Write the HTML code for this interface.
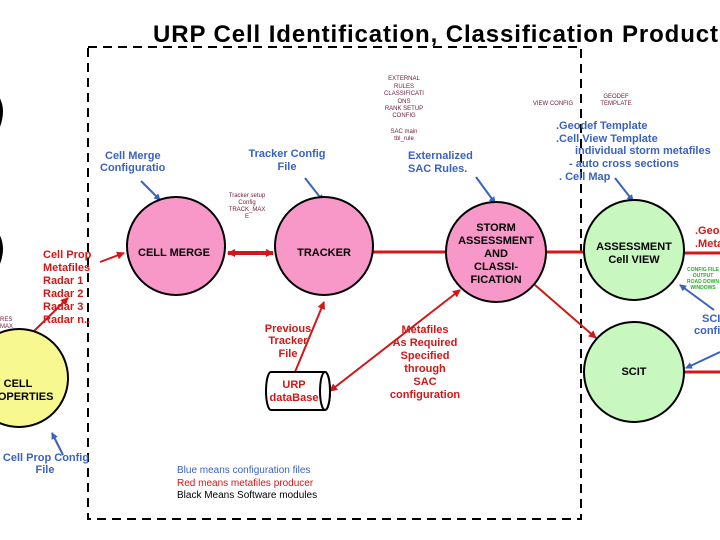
<!DOCTYPE html>
<html><head><meta charset="utf-8"><style>
html,body{margin:0;padding:0;background:#fff;overflow:hidden;}
svg{display:block;}
text{font-family:"Liberation Sans",sans-serif;}
.b{fill:#3a62c0;font-weight:bold;font-size:11px;}
.r{fill:#d01818;font-weight:bold;font-size:11px;}
.k{fill:#000;font-weight:bold;font-size:11px;}
.m{fill:#702040;font-size:6px;}
</style></head><body>
<svg width="720" height="540" viewBox="0 0 720 540" xmlns="http://www.w3.org/2000/svg">
<defs>
<marker id="ar" markerWidth="8" markerHeight="8" refX="7" refY="4" orient="auto" markerUnits="userSpaceOnUse"><path d="M0,0 L8,4 L0,8 z" fill="#d01818"/></marker>
<marker id="al" markerWidth="8" markerHeight="8" refX="1" refY="4" orient="auto" markerUnits="userSpaceOnUse"><path d="M8,0 L0,4 L8,8 z" fill="#d01818"/></marker>
<marker id="ab" markerWidth="7" markerHeight="7" refX="6" refY="3.5" orient="auto" markerUnits="userSpaceOnUse"><path d="M0,0 L7,3.5 L0,7 z" fill="#3a62c0"/></marker>
</defs>
<text x="153" y="42" font-size="24" font-weight="bold" fill="#000" letter-spacing="0.9">URP Cell Identification, Classification Product</text>
<rect x="88" y="47" width="493" height="472" fill="none" stroke="#000" stroke-width="2" stroke-dasharray="9,6"/>
<path d="M-2,98 Q5,110 -2,128" fill="none" stroke="#000" stroke-width="3"/>
<path d="M-2,235 Q5,248 -2,265" fill="none" stroke="#000" stroke-width="3"/>
<line x1="228" y1="253" x2="273" y2="253" stroke="#d01818" stroke-width="4" marker-start="url(#al)" marker-end="url(#ar)"/>
<line x1="373" y1="252" x2="446" y2="252" stroke="#d01818" stroke-width="3"/>
<line x1="545" y1="252" x2="585" y2="252" stroke="#d01818" stroke-width="3"/>
<line x1="684" y1="253" x2="720" y2="253" stroke="#d01818" stroke-width="3"/>
<line x1="684" y1="372" x2="720" y2="372" stroke="#d01818" stroke-width="3"/>
<line x1="100" y1="262" x2="124" y2="253" stroke="#d01818" stroke-width="2" marker-end="url(#ar)"/>
<line x1="33" y1="332" x2="68" y2="298" stroke="#d01818" stroke-width="2" marker-end="url(#ar)"/>
<line x1="295" y1="372" x2="324" y2="302" stroke="#d01818" stroke-width="2" marker-end="url(#ar)"/>
<line x1="330" y1="391" x2="460" y2="290" stroke="#d01818" stroke-width="2" marker-start="url(#al)" marker-end="url(#ar)"/>
<line x1="535" y1="285" x2="596" y2="338" stroke="#d01818" stroke-width="2" marker-end="url(#ar)"/>
<line x1="141" y1="181" x2="160" y2="200" stroke="#3a62c0" stroke-width="2" marker-end="url(#ab)"/>
<line x1="305" y1="178" x2="323" y2="201" stroke="#3a62c0" stroke-width="2" marker-end="url(#ab)"/>
<line x1="476" y1="177" x2="495" y2="203" stroke="#3a62c0" stroke-width="2" marker-end="url(#ab)"/>
<line x1="615" y1="178" x2="633" y2="201" stroke="#3a62c0" stroke-width="2" marker-end="url(#ab)"/>
<line x1="714" y1="310" x2="680" y2="285" stroke="#3a62c0" stroke-width="2" marker-end="url(#ab)"/>
<line x1="720" y1="352" x2="686" y2="368" stroke="#3a62c0" stroke-width="2" marker-end="url(#ab)"/>
<line x1="63" y1="455" x2="52" y2="433" stroke="#3a62c0" stroke-width="2" marker-end="url(#ab)"/>
<circle cx="176" cy="246" r="49" fill="#f898c8" stroke="#000" stroke-width="2"/>
<circle cx="324" cy="246" r="49" fill="#f898c8" stroke="#000" stroke-width="2"/>
<circle cx="496" cy="252" r="50" fill="#f898c8" stroke="#000" stroke-width="2"/>
<circle cx="634" cy="250" r="50" fill="#c8f8c0" stroke="#000" stroke-width="2"/>
<circle cx="634" cy="372" r="50" fill="#c8f8c0" stroke="#000" stroke-width="2"/>
<circle cx="19" cy="378" r="49" fill="#f8f890" stroke="#000" stroke-width="2"/>
<path d="M271,372 L325,372 A5,19 0 0 1 325,410 L271,410 A5,19 0 0 1 271,372 z" fill="#fff" stroke="#000" stroke-width="2"/>
<ellipse cx="325" cy="391" rx="5" ry="19" fill="#fff" stroke="#000" stroke-width="2"/>
<text x="294" y="388" class="r" text-anchor="middle">URP</text>
<text x="294" y="401" class="r" text-anchor="middle">dataBase</text>
<text x="174" y="256" class="k" text-anchor="middle">CELL MERGE</text>
<text x="324" y="256" class="k" text-anchor="middle">TRACKER</text>
<g class="k" text-anchor="middle"><text x="496" y="231">STORM</text><text x="496" y="244">ASSESSMENT</text><text x="496" y="257">AND</text><text x="496" y="270">CLASSI-</text><text x="496" y="283">FICATION</text></g>
<text x="634" y="250" class="k" text-anchor="middle">ASSESSMENT</text>
<text x="634" y="263" class="k" text-anchor="middle" font-weight="normal">Cell VIEW</text>
<text x="634" y="375" class="k" text-anchor="middle">SCIT</text>
<text x="18" y="387" class="k" text-anchor="middle">CELL</text>
<text x="18" y="400" class="k" text-anchor="middle">PROPERTIES</text>
<g class="b"><text x="105" y="159">Cell Merge</text><text x="100" y="171">Configuratio</text></g>
<g class="b" text-anchor="middle"><text x="287" y="157">Tracker Config</text><text x="287" y="170">File</text></g>
<g class="b"><text x="408" y="159">Externalized</text><text x="408" y="172">SAC Rules.</text></g>
<g class="b"><text x="556" y="129">.Geodef Template</text><text x="556" y="142">.Cell View Template</text><text x="575" y="154">individual storm metafiles</text><text x="569" y="167">- auto cross sections</text><text x="559" y="180">. Cell Map</text></g>
<g class="b" text-anchor="middle"><text x="46" y="461">Cell Prop Config</text><text x="45" y="473">File</text></g>
<g class="b"><text x="702" y="322">SCIT</text><text x="694" y="334">config</text></g>
<g class="r"><text x="43" y="258">Cell Prop</text><text x="43" y="271">Metafiles</text><text x="43" y="284">Radar 1</text><text x="43" y="297">Radar 2</text><text x="43" y="310">Radar 3</text><text x="43" y="323">Radar n..</text></g>
<g class="r" text-anchor="middle"><text x="288" y="332">Previous</text><text x="288" y="344">Tracker</text><text x="288" y="357">File</text></g>
<g class="r" text-anchor="middle"><text x="425" y="333">Metafiles</text><text x="425" y="346">As Required</text><text x="425" y="359">Specified</text><text x="425" y="372">through</text><text x="425" y="385">SAC</text><text x="425" y="398">configuration</text></g>
<g class="r" font-weight="normal"><text x="695" y="234">.Geodef</text><text x="695" y="247">.Metafiles</text></g>
<g class="m" text-anchor="middle"><text x="404" y="80">EXTERNAL</text><text x="404" y="88">RULES</text><text x="404" y="95">CLASSIFICATI</text><text x="404" y="103">ONS</text><text x="404" y="110">RANK SETUP</text><text x="404" y="117">CONFIG</text><text x="404" y="133">SAC main</text><text x="404" y="140">tbl_rule</text></g>
<text x="553" y="105" class="m" text-anchor="middle">VIEW CONFIG</text>
<g class="m" text-anchor="middle"><text x="616" y="98">GEODEF</text><text x="616" y="105">TEMPLATE</text></g>
<g class="m" text-anchor="middle"><text x="247" y="197">Tracker setup</text><text x="247" y="204">Config</text><text x="247" y="211">TRACK_MAX</text><text x="247" y="218">E</text></g>
<g class="m" fill="#444"><text x="0" y="321">RES</text><text x="0" y="328">MAX</text></g>
<g style="font-size:5px;fill:#20b020;font-weight:bold" text-anchor="middle"><text x="703" y="271">CONFIG FILE</text><text x="703" y="277">OUTPUT</text><text x="703" y="283">ROAD DOWN</text><text x="703" y="289">WINDOWS</text></g>
<text x="177" y="473" font-size="10" fill="#3a62c0">Blue means configuration files</text>
<text x="177" y="486" font-size="10" fill="#d01818">Red means metafiles producer</text>
<text x="177" y="498" font-size="10" fill="#000">Black Means Software modules</text>
</svg>
</body></html>
